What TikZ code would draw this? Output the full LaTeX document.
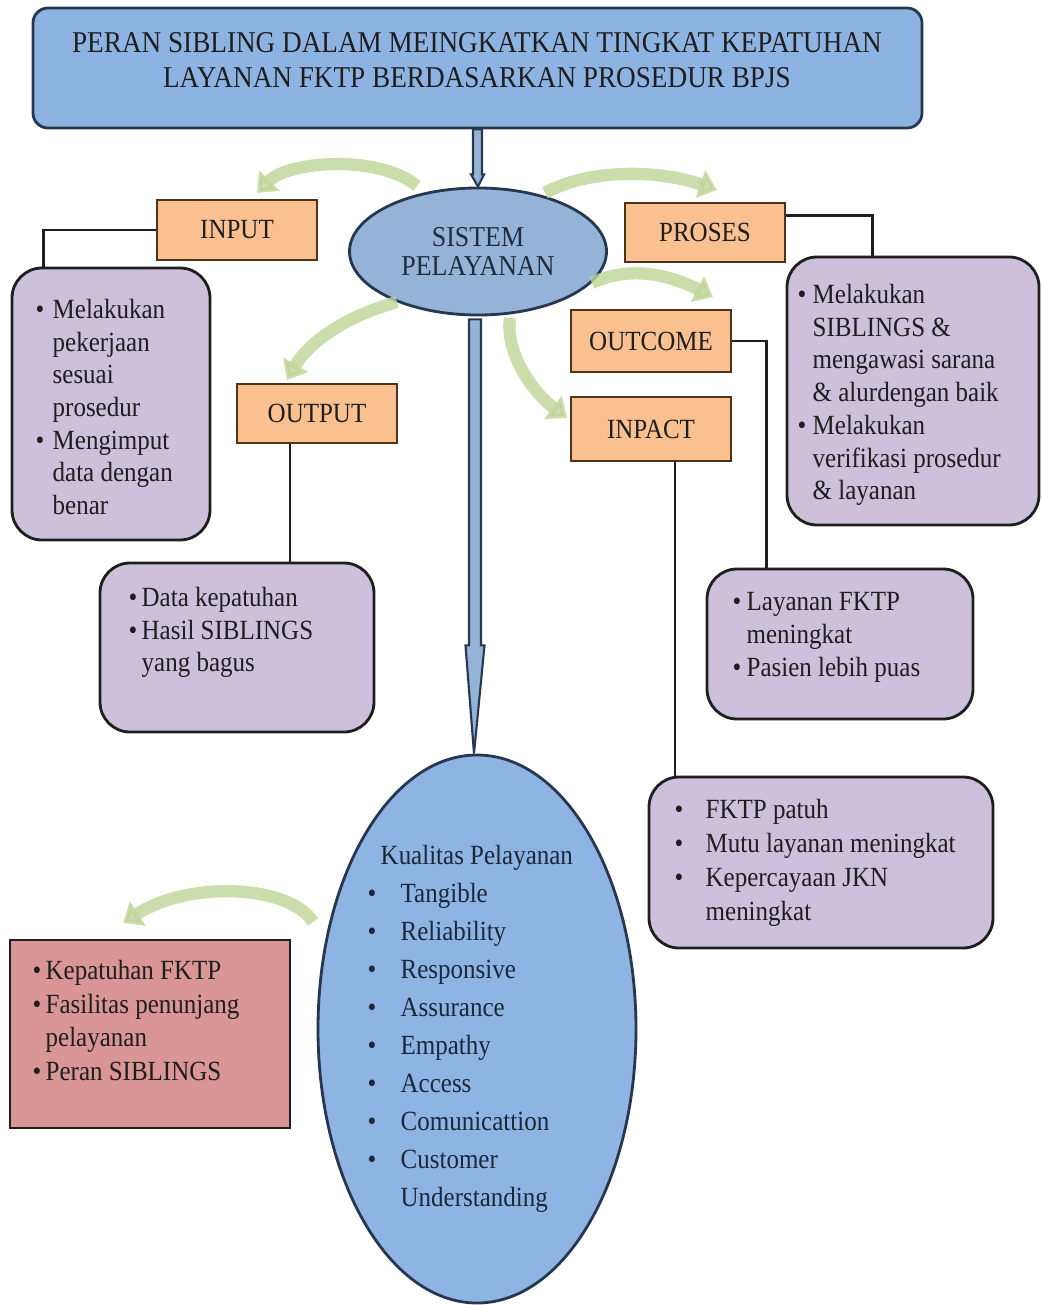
\documentclass[tikz,border=0pt]{standalone}
\usepackage{fontspec}
\setmainfont{Liberation Serif}[FakeStretch=0.9]
\usetikzlibrary{shapes,arrows.meta,calc}

\definecolor{titleblue}{RGB}{141,179,226}
\definecolor{sysblue}{RGB}{149,179,215}
\definecolor{kualblue}{RGB}{141,180,226}
\definecolor{boxorange}{RGB}{250,192,144}
\definecolor{boxlilac}{RGB}{204,192,218}
\definecolor{boxrose}{RGB}{217,150,148}
\definecolor{leafgreen}{RGB}{190,212,150}
\definecolor{navyline}{RGB}{40,55,80}
\definecolor{inkgray}{RGB}{30,30,30}

\newlength{\bulw}
\newcommand{\bpt}{\makebox[\bulw][l]{\textbullet}}
\newcommand{\bsk}{\hspace*{\bulw}}
\newcommand{\boxfont}{\fontsize{7.9}{9.3}\selectfont}

\tikzset{
	tagbox/.style={draw=brown!40!black, fill=boxorange, line width=0.8pt, minimum width=1.6cm, font=\boxfont, text=inkgray},
	notebox/.style={draw=inkgray, fill=boxlilac, line width=0.8pt, rounded corners=0.3cm},
	notetext/.style={anchor=west, align=left, inner sep=0pt, font=\boxfont, text=inkgray},
	bw/.style={execute at begin node={\setlength{\bulw}{#1}}},
	link/.style={draw=inkgray, line width=0.7pt},
	swoosh/.style={draw=leafgreen, line width=3.5pt, opacity=0.8, -{Triangle[length=5pt,width=8pt]}},
	blockarrow/.style={draw=navyline, fill=sysblue, line width=0.6pt, line join=miter}
}

\begin{document}
\begin{tikzpicture}
		\useasboundingbox (0,0) rectangle (10.41,-13.05);
		\node[draw=navyline, fill=titleblue, line width=0.8pt, rounded corners=0.15cm, minimum width=8.89cm, minimum height=1.2cm] (title) at (4.775,-0.68) {};
		\node[align=center, font=\fontsize{8.6}{10}\selectfont, text=inkgray] (titletxt) at (4.77,-0.605) {PERAN SIBLING DALAM MEINGKATKAN TINGKAT KEPATUHAN\\LAYANAN FKTP BERDASARKAN PROSEDUR BPJS};
		\node[ellipse, draw=navyline, fill=sysblue, line width=0.8pt, minimum width=2.57cm, minimum height=1.27cm, align=center, font=\fontsize{8.2}{8.5}\selectfont, text=navyline!80!black] (sistem) at (4.78,-2.515) {SISTEM\\PELAYANAN};

		\node[tagbox, minimum height=0.6cm] (input) at (2.37,-2.30) {INPUT};
		\node[tagbox, minimum height=0.59cm] (proses) at (7.05,-2.325) {PROSES};
		\node[tagbox, minimum height=0.62cm] (outcome) at (6.51,-3.41) {OUTCOME};
		\node[tagbox, minimum height=0.64cm] (inpact) at (6.51,-4.29) {INPACT};
		\node[tagbox, minimum height=0.59cm] (output) at (3.17,-4.135) {OUTPUT};

		\node[notebox, minimum width=1.98cm, minimum height=2.72cm] (inputket) at (1.11,-4.04) {};
		\node[notebox, minimum width=2.52cm, minimum height=2.68cm] (prosesket) at (9.13,-3.91) {};
		\node[notebox, minimum width=2.74cm, minimum height=1.69cm] (outputket) at (2.37,-6.475) {};
		\node[notebox, minimum width=2.66cm, minimum height=1.50cm] (outcomeket) at (8.40,-6.44) {};
		\node[notebox, minimum width=3.44cm, minimum height=1.71cm] (inpactket) at (8.21,-8.625) {};
		\node[draw=inkgray, fill=boxrose, line width=0.8pt, minimum width=2.80cm, minimum height=1.88cm] (faktor) at (1.50,-10.34) {};
		\node[ellipse, draw=navyline, fill=kualblue, line width=0.8pt, minimum width=3.18cm, minimum height=5.48cm] (kualitas) at (4.77,-10.29) {};

		\node[notetext, bw=0.17cm] (inputtxt) at (0.35,-4.07) {\bpt Melakukan\\\bsk pekerjaan\\\bsk sesuai\\\bsk prosedur\\\bpt Mengimput\\\bsk data dengan\\\bsk benar};
		\node[notetext, bw=0.15cm] (prosestxt) at (7.97,-3.95) {\bpt Melakukan\\\bsk SIBLINGS \&\\\bsk mengawasi sarana\\\bsk \& alurdengan baik\\\bpt Melakukan\\\bsk verifikasi prosedur\\\bsk \& layanan};
		\node[notetext, bw=0.13cm] (outputtxt) at (1.28,-6.325) {\bpt Data kepatuhan\\\bpt Hasil SIBLINGS\\\bsk yang bagus};
		\node[notetext, bw=0.14cm] (outcometxt) at (7.32,-6.375) {\bpt Layanan FKTP\\\bsk meningkat\\\bpt Pasien lebih puas};
		\node[notetext, bw=0.31cm, font=\fontsize{7.9}{9.7}\selectfont] (inpacttxt) at (6.74,-8.63) {\bpt FKTP patuh\\\bpt Mutu layanan meningkat\\\bpt Kepercayaan JKN\\\bsk meningkat};
		\node[notetext, bw=0.13cm, font=\fontsize{7.9}{9.6}\selectfont] (faktortxt) at (0.32,-10.205) {\bpt Kepatuhan FKTP\\\bpt Fasilitas penunjang\\\bsk pelayanan\\\bpt Peran SIBLINGS};
		\node[notetext, bw=0.33cm, font=\fontsize{7.9}{10.8}\selectfont, text=navyline!70!black] (kualitastxt) at (3.67,-10.29) {\hspace*{0.13cm}Kualitas Pelayanan\\\bpt Tangible\\\bpt Reliability\\\bpt Responsive\\\bpt Assurance\\\bpt Empathy\\\bpt Access\\\bpt Comunicattion\\\bpt Customer\\\bsk Understanding};

		\draw[blockarrow] ($(title.south)+(-0.045,0)$) -- ++(0,-0.45) -- ++(-0.02,0) -- (sistem.north) -- ($(title.south)+(0.065,-0.45)$) -- ++(-0.02,0) -- ($(title.south)+(0.045,0)$) -- cycle;
		\draw[blockarrow] ($(sistem.south)+(-0.09,-0.03)$) coordinate (la) -- ($(la)+(0,-3.26)$) -- ++(-0.035,0) -- ($(kualitas.north)+(-0.03,0)$) -- ($(la)+(0.155,-3.26)$) -- ++(-0.035,0) -- ($(la)+(0.12,0)$) -- cycle;

		\draw[link] (input.west) -| ($(inputket.north west)+(0.33,0)$);
		\draw[link] ($(proses.east)+(0,0.17)$) -| ($(prosesket.north west)+(0.87,0)$);
		\draw[link] (outcome.east) -| ($(outcomeket.north west)+(0.61,0)$);
		\draw[link] ($(inpact.south)+(0.24,0)$) coordinate (ip) -- (ip |- inpactket.north);
		\draw[link] ($(output.south)+(-0.27,0)$) coordinate (op) -- (op |- outputket.north);

		\coordinate (swinA) at (4.17,-1.86);
		\coordinate (swinB) at (2.57,-1.93);
		\coordinate (swprA) at (5.45,-1.93);
		\coordinate (swprB) at (7.17,-1.90);
		\coordinate (swocA) at (5.92,-2.83);
		\coordinate (swocB) at (7.13,-2.97);
		\coordinate (swotA) at (3.97,-3.02);
		\coordinate (swotB) at (2.87,-3.80);
		\coordinate (swipA) at (5.10,-3.18);
		\coordinate (swipB) at (5.67,-4.18);
		\coordinate (swfkA) at (3.13,-9.22);
		\coordinate (swfkB) at (1.23,-9.23);
		\draw[swoosh] (swinA) .. controls (3.8,-1.55) and (2.9,-1.6) .. (swinB);
		\draw[swoosh] (swprA) .. controls (5.9,-1.68) and (6.6,-1.7) .. (swprB);
		\draw[swoosh] (swocA) .. controls (6.3,-2.65) and (6.7,-2.75) .. (swocB);
		\draw[swoosh] (swotA) .. controls (3.5,-3.15) and (3.1,-3.4) .. (swotB);
		\draw[swoosh] (swipA) .. controls (5.05,-3.5) and (5.3,-3.9) .. (swipB);
		\draw[swoosh] (swfkA) .. controls (2.9,-8.85) and (1.9,-8.8) .. (swfkB);
	\end{tikzpicture}
\end{document}
